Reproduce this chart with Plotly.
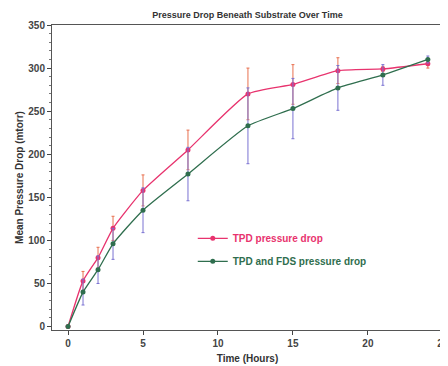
import plotly.graph_objects as go

time_hours = [0, 1, 2, 3, 5, 8, 12, 15, 18, 21, 24]
tpd_mean = [0, 53, 80, 114, 158, 205, 270, 281, 297, 299, 305]
tpd_err = [0, 11, 12, 14, 18, 23, 30, 23, 15, 3, 5]
fds_mean = [0, 40, 66, 96, 135, 177, 233, 253, 277, 292, 310]
fds_err = [0, 15, 16, 18, 26, 31, 44, 35, 26, 12, 4]

x_ticks = [0, 5, 10, 15, 20, 25]
y_ticks = [0, 50, 100, 150, 200, 250, 300, 350]

RED = "#e8336e"
RED_ERR = "#e8704f"
GREEN = "#2f6e4e"
BLUE_ERR = "#7a72d2"
FONT = "Liberation Sans, Arial, sans-serif"

fig = go.Figure()
fig.add_trace(go.Scatter(
    x=time_hours, y=tpd_mean, mode="lines+markers",
    name="<b><span style='color:%s'>TPD pressure drop</span></b>" % RED,
    legendgroup="a",
    line=dict(color=RED, width=1.3, shape="spline", smoothing=0.5),
    marker=dict(color=RED, size=5),
    error_y=dict(type="data", array=tpd_err, visible=True, color=RED_ERR,
                 thickness=1, width=1.5),
))
fig.add_trace(go.Scatter(
    x=time_hours, y=fds_mean, mode="lines+markers",
    name="<b><span style='color:%s'>TPD and FDS pressure drop</span></b>" % GREEN,
    legendgroup="b",
    line=dict(color=GREEN, width=1.3, shape="spline", smoothing=0.5),
    marker=dict(color=GREEN, size=5),
    error_y=dict(type="data", array=fds_err, visible=True, color=BLUE_ERR,
                 thickness=1, width=1.5),
))

fig.update_layout(
    width=440, height=358,
    margin=dict(l=44, r=5, t=17, b=36, autoexpand=False),
    paper_bgcolor="white", plot_bgcolor="white",
    font=dict(family=FONT, size=10, color="#333333"),
    title=dict(text="<b>Pressure Drop Beneath Substrate Over Time</b>",
               xref="paper", x=0.5, xanchor="center",
               yref="container", y=0.982, yanchor="middle",
               font=dict(size=9, color="#333333"), automargin=False),
    showlegend=True,
    legend=dict(x=0.36, y=0.348, xanchor="left", yanchor="top",
                bgcolor="rgba(0,0,0,0)", font=dict(size=10),
                tracegroupgap=4, itemwidth=30),
    xaxis=dict(range=[-1.07, 25.01], tickvals=x_ticks, automargin=False,
               ticklabeloverflow="allow",
               ticks="outside", ticklen=4, tickcolor="#444",
               showline=True, linecolor="#555", linewidth=1, mirror=True,
               showgrid=False, zeroline=False,
               tickfont=dict(size=10, color="#444", weight="bold"),
               title=dict(text="<b>Time (Hours)</b>", standoff=6,
                          font=dict(size=10, color="#333"))),
    yaxis=dict(range=[-4, 350], tickvals=y_ticks, automargin=False,
               ticks="outside", ticklen=4, tickcolor="#444",
               minor=dict(dtick=10, ticks="outside", ticklen=2, tickcolor="#777"),
               showline=True, linecolor="#555", linewidth=1, mirror=True,
               showgrid=False, zeroline=False,
               tickfont=dict(size=10, color="#444", weight="bold"),
               title=dict(text="<b>Mean Pressure Drop (mtorr)</b>", standoff=2,
                          font=dict(size=10, color="#333"))),
)

fig.write_html("out.html")
